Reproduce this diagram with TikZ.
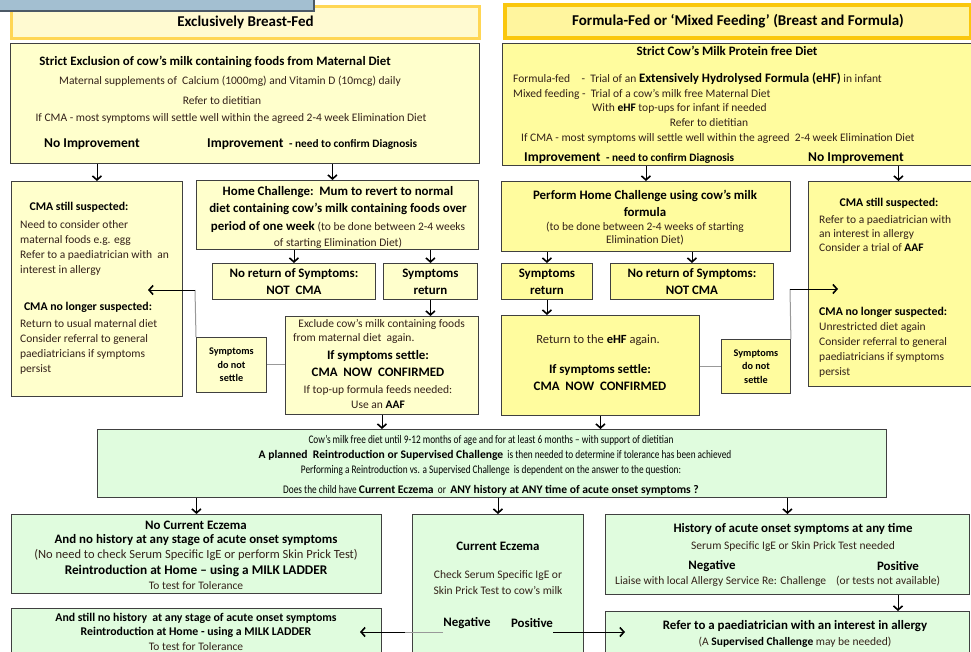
\documentclass[tikz,border=0pt]{standalone}
\usepackage{fontspec}
\setmainfont{Carlito}
\newfontfamily\condfont[FakeStretch=0.8]{Carlito}
\usetikzlibrary{arrows.meta,positioning}

\definecolor{boxgrey}{rgb}{0.25,0.25,0.25}
\definecolor{lineg}{rgb}{0.6,0.6,0.6}
\definecolor{paleyel}{rgb}{1,1,0.8}
\definecolor{richyel}{rgb}{1,0.99,0.62}
\definecolor{mintgrn}{rgb}{0.88,0.99,0.87}
\definecolor{hdrfill}{rgb}{1,0.98,0.82}
\definecolor{hdrgold}{rgb}{1,0.84,0.33}
\definecolor{hdrfillb}{rgb}{1,0.96,0.62}
\definecolor{hdrorange}{rgb}{0.98,0.78,0.05}
\definecolor{tabblue}{rgb}{0.64,0.75,0.82}
\definecolor{tabedge}{rgb}{0.3,0.35,0.4}
\definecolor{inkbrown}{rgb}{0.2,0.13,0.1}

\newcommand\fsm{\fontsize{11.5}{15}\selectfont}
\newcommand\fbd{\fontsize{12.9}{17}\selectfont\bfseries}
\newcommand\fbs{\fontsize{11.8}{17}\selectfont\bfseries}
\newcommand\fbg{\fontsize{13.5}{17}\selectfont\bfseries}
\newcommand\fhd{\fontsize{15}{17}\selectfont\bfseries}
\newcommand\ftn{\fontsize{10.2}{13.5}\selectfont\bfseries}
\newcommand\fgr{\condfont\fontsize{11.6}{15}\selectfont}
\newcommand\fgb{\normalfont\fontsize{11.6}{15}\selectfont\bfseries}

\begin{document}
\begin{tikzpicture}[x=1pt,y=-1pt,
  box/.style={draw=boxgrey,line width=0.9pt,inner sep=0pt,anchor=north west},
  lbox/.style={box,fill=paleyel},
  rbox/.style={box,fill=richyel},
  gbox/.style={box,fill=mintgrn},
  t/.style={inner sep=0pt,text=inkbrown,font=\fsm},
  tb/.style={inner sep=0pt,font=\fbd},
  ts/.style={inner sep=0pt,font=\fbs},
  tg/.style={inner sep=0pt,font=\fbg},
  gt/.style={inner sep=0pt,font=\fgr},
  arr/.style={line width=0.7pt,-{Straight Barb[length=4pt,width=9pt,line width=1.6pt]}},
  gline/.style={draw=lineg,line width=1pt}]
\useasboundingbox (0,0) rectangle (971,651);
\clip (0,0) rectangle (971,651);

% headings
\node[box,draw=hdrgold,fill=hdrfill,line width=3pt,minimum width=468pt,minimum height=32pt,font=\fhd] (bfhead) at (10,5) {Exclusively Breast-Fed};
\node[box,draw=tabedge,fill=tabblue,line width=1.5pt,minimum width=340pt,minimum height=20pt] (tab) at (-27,-10) {};
\node[box,draw=hdrorange,fill=hdrfillb,line width=4pt,minimum width=466pt,minimum height=33pt,font=\fhd] (ffhead) at (503,3) {Formula-Fed or ‘Mixed Feeding’ (Breast and Formula)};

% breast-fed start
\node[lbox,minimum width=469pt,minimum height=120pt] (excl) at (10,43) {};
\node[tb] at (215,62) {Strict Exclusion of cow’s milk containing foods from Maternal Diet};
\node[t] at (230,81) {Maternal supplements of\ \ Calcium (1000mg) and Vitamin D (10mcg) daily};
\node[t] at (222,101) {Refer to dietitian};
\node[t] at (231,118) {If CMA - most symptoms will settle well within the agreed 2-4 week Elimination Diet};
\node[tg,anchor=west] (noimpL) at (44,144) {No Improvement};
\node[tg,anchor=west] (impL) at (207,144) {Improvement {\fontsize{11.3}{15}\selectfont\ - need to confirm Diagnosis}};

% formula start
\node[rbox,minimum width=480pt,minimum height=122pt] (cmpf) at (502,43) {};
\node[tb] at (727,51) {Strict Cow’s Milk Protein free Diet};
\node[t,anchor=west] at (513,79) {Formula-fed\quad - \ Trial of an {\fbd\color{black}Extensively Hydrolysed Formula (eHF)} in infant};
\node[t,anchor=west] at (513,94) {Mixed feeding - \ Trial of a cow’s milk free Maternal Diet};
\node[t,anchor=west] at (592,108) {With {\bfseries\color{black}eHF} top-ups for infant if needed};
\node[t] at (709,123) {Refer to dietitian};
\node[t,anchor=west] at (521,138) {If CMA - most symptoms will settle well within the agreed\ \ 2-4 week Elimination Diet};
\node[tg,anchor=west] (impR) at (524,158) {Improvement {\fontsize{11.3}{15}\selectfont\ - need to confirm Diagnosis}};
\node[tg,anchor=west] (noimpR) at (808,158) {No Improvement};

% breast-fed branch
\node[lbox,minimum width=171pt,minimum height=215pt] (cmaL) at (11,181) {};
\node[ts] at (79,207) {CMA still suspected:};
\node[t,align=left,anchor=north west] at (20,220) {Need to consider other\\maternal foods e.g. egg\\Refer to a paediatrician with\ \ an\\interest in allergy};
\node[ts] at (88,307) {CMA no longer suspected:};
\node[t,align=left,anchor=north west] at (20,319) {Return to usual maternal diet\\Consider referral to general\\paediatricians if symptoms\\persist};

\node[lbox,minimum width=282pt,minimum height=69pt] (hchal) at (196,180) {};
\node[tb,align=center] at (338,201) {Home Challenge:\ \ Mum to revert to normal\\diet containing cow’s milk containing foods over};
\node[tb] at (338,227) {period of one week {\fsm\mdseries\color{inkbrown}(to be done between 2-4 weeks}};
\node[t] at (338,243) {of starting Elimination Diet)};

\node[lbox,minimum width=163pt,minimum height=36pt,font=\fbd,align=center] (noretL) at (212,263) {No return of Symptoms:\\NOT\ \ CMA};
\node[lbox,minimum width=94pt,minimum height=36pt,font=\fbd,align=center] (retL) at (383,263) {Symptoms\\return};

\node[lbox,minimum width=193pt,minimum height=98pt] (exclag) at (285,316) {};
\node[t,align=left,anchor=north west] at (293,319) {\ \ Exclude cow’s milk containing foods\\[-1pt]from maternal diet\ \ again.};
\node[tb] at (378,356) {If symptoms settle:};
\node[tb] at (378,372) {CMA\ \ NOW\ \ CONFIRMED};
\node[t] at (378,390) {If top-up formula feeds needed:};
\node[t] at (378,405) {Use an {\bfseries\color{black}AAF}};

\node[lbox,minimum width=70pt,minimum height=55pt,font=\ftn,align=center] (nosetL) at (196,337) {Symptoms\\do not\\settle};

% formula branch
\node[rbox,minimum width=289pt,minimum height=70pt] (hchalR) at (501,181) {};
\node[tb,align=center] at (645,203) {Perform Home Challenge using cow’s milk\\formula};
\node[t,align=center] at (645,234) {(to be done between 2-4 weeks of starting\\[-2pt]Elimination Diet)};

\node[rbox,minimum width=91pt,minimum height=36pt,font=\fbd,align=center] (retR) at (501,263) {Symptoms\\return};
\node[rbox,minimum width=163pt,minimum height=36pt,font=\fbd,align=center] (noretR) at (610,263) {No return of Symptoms:\\NOT CMA};

\node[rbox,minimum width=198pt,minimum height=100pt] (ehfag) at (501,315) {};
\node[t,font=\fontsize{12.5}{15}\selectfont] at (598,340) {Return to the {\bfseries\color{black}eHF} again.};
\node[tb] at (600,370) {If symptoms settle:};
\node[tb] at (600,386) {CMA\ \ NOW\ \ CONFIRMED};

\node[rbox,minimum width=69pt,minimum height=54pt,font=\ftn,align=center] (nosetR) at (721,339) {Symptoms\\do not\\settle};

\node[rbox,minimum width=180pt,minimum height=205pt] (cmaR) at (808,181) {};
\node[ts] at (889,203) {CMA still suspected:};
\node[t,align=left,anchor=north west] at (819,215) {Refer to a paediatrician with\\[-1pt]an interest in allergy\\[-1pt]Consider a trial of {\bfseries\color{black}AAF}};
\node[ts,anchor=west] at (819,312) {CMA no longer suspected:};
\node[t,align=left,anchor=north west] at (819,322) {Unrestricted diet again\\Consider referral to general\\paediatricians if symptoms\\persist};

% common route
\node[gbox,minimum width=789pt,minimum height=68pt] (cmfree) at (97,429) {};
\node[gt] at (491,440) {Cow’s milk free diet until 9-12 months of age and for at least 6 months – with support of dietitian};
\node[gt] at (495,455) {{\fgb A planned\ \ Reintroduction or Supervised Challenge}\ \ is then needed to determine if tolerance has been achieved};
\node[gt] at (491,470) {Performing a Reintroduction vs. a Supervised Challenge\ \ is dependent on the answer to the question:};
\node[gt] at (491,490) {Does the child have {\fgb Current Eczema}\ \ or\ \ {\fgb ANY history at ANY time of acute onset symptoms ?}};

\node[gbox,minimum width=370pt,minimum height=79pt] (noecz) at (11,514) {};
\node[tb] at (196,525) {No Current Eczema};
\node[tb] at (196,540) {And no history at any stage of acute onset symptoms};
\node[t,font=\fontsize{12.5}{15}\selectfont] at (196,555) {(No need to check Serum Specific IgE or perform Skin Prick Test)};
\node[tb,font=\fontsize{13.3}{17}\selectfont\bfseries] at (196,571) {Reintroduction at Home – using a MILK LADDER};
\node[t] at (196,586) {To test for Tolerance};

\node[gbox,minimum width=171pt,minimum height=150pt] (curecz) at (412,514) {};
\node[tb] at (498,546) {Current Eczema};
\node[t] at (498,575) {Check Serum Specific IgE or};
\node[t] at (498,590) {Skin Prick Test to cow’s milk};
\node[tb] (qneg) at (467,623) {Negative};
\node[tb] (qpos) at (532,623) {Positive};

\node[gbox,minimum width=364pt,minimum height=80pt] (acute) at (605,514) {};
\node[tb] at (793,529) {History of acute onset symptoms at any time};
\node[t] at (793,546) {Serum Specific IgE or Skin Prick Test needed};
\node[tb] at (712,566) {Negative};
\node[tb] (rpos) at (898,566) {Positive};
\node[t,anchor=west] at (615,581) {Liaise with local Allergy Service Re: Challenge};
\node[t,anchor=west] at (836,581) {(or tests not available)};

\node[gbox,minimum width=364pt,minimum height=60pt] (refer) at (605,611) {};
\node[tb] at (795,626) {Refer to a paediatrician with an interest in allergy};
\node[t] at (795,642) {(A {\bfseries\color{black}Supervised Challenge} may be needed)};

\node[gbox,minimum width=370pt,minimum height=60pt] (stillno) at (11,608) {};
\node[ts] at (196,618) {And still no history\ \ at any stage of acute onset symptoms};
\node[ts] at (196,632) {Reintroduction at Home - using a MILK LADDER};
\node[t] at (196,647) {To test for Tolerance};

% arrows down
\draw[arr] (excl.south -| cmaL.north) -- (cmaL.north);
\draw[arr] ([xshift=-5pt]excl.south -| hchal.north) -- ([xshift=-5pt]hchal.north);
\draw[arr] (cmpf.south -| hchalR.north) -- (hchalR.north);
\draw[arr] (cmpf.south -| cmaR.north) -- (cmaR.north);
\draw[arr] (hchal.south -| noretL.north) -- (noretL.north);
\draw[arr] (hchal.south -| retL.north) -- (retL.north);
\draw[arr] (retL.south) -- (retL.south |- exclag.north);
\draw[arr] (hchalR.south -| retR.north) -- (retR.north);
\draw[arr] (hchalR.south -| noretR.north) -- (noretR.north);
\draw[arr] (retR.south) -- (retR.south |- ehfag.north);
\draw[arr] (exclag.south) -- (exclag.south |- cmfree.north);
\draw[arr] (ehfag.south) -- (ehfag.south |- cmfree.north);
\draw[arr] (cmfree.south -| noecz.north) -- (noecz.north);
\draw[arr] (cmfree.south -| curecz.north) -- (curecz.north);
\draw[arr] (cmfree.south -| acute.north) -- (acute.north);
\draw[arr] (acute.south -| rpos) -- (refer.north -| rpos);

% symptoms do not settle
\coordinate (bendL) at (195,290);
\coordinate (tipL) at (148,290);
\draw[gline] (exclag.west |- nosetL.east) -- (nosetL.east);
\draw[gline] (nosetL.north west) -- (bendL);
\draw[arr] (bendL) -- (tipL);
\coordinate (bendR) at (790,289);
\coordinate (tipR) at (838,289);
\draw[gline] (ehfag.east |- nosetR.west) -- (nosetR.west);
\draw[gline] (nosetR.north east) -- (bendR);
\draw[arr] (bendR) -- (tipR);

% eczema results
\coordinate (negbend) at (405,632);
\coordinate (tipT) at (360,632);
\coordinate (tipS) at (625,632);
\draw[gline] (qneg.west |- negbend) -- (negbend);
\draw[arr] (negbend) -- (tipT);
\draw[arr] (qpos.east |- tipS) -- (tipS);

\end{tikzpicture}
\end{document}
